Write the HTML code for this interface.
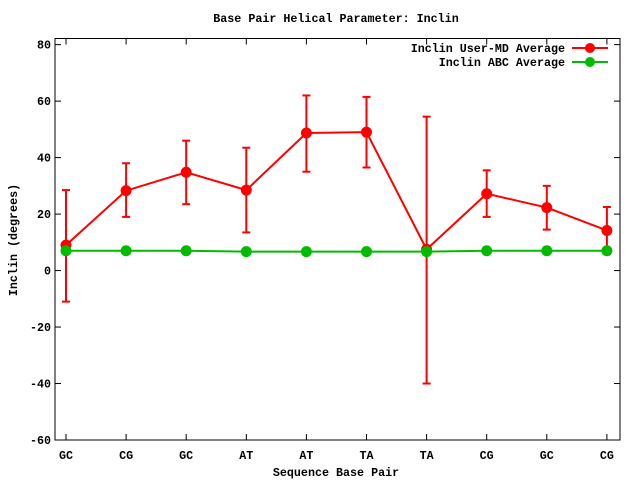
<!DOCTYPE html>
<html><head><meta charset="utf-8"><style>
body{margin:0;background:#fff}
svg{display:block}
text{font-family:"Liberation Mono","DejaVu Sans Mono",monospace;font-size:11.7px;font-weight:bold;fill:#000}
</style></head><body>
<svg id="c" width="640" height="480" xmlns="http://www.w3.org/2000/svg">
<text x="336" y="22" text-anchor="middle">Base Pair Helical Parameter: Inclin</text>
<text x="336" y="476" text-anchor="middle">Sequence Base Pair</text>
<text transform="translate(17,240) rotate(-90)" text-anchor="middle">Inclin (degrees)</text>
<rect x="55" y="38.5" width="565" height="401.5" fill="none" stroke="#000" stroke-width="1"/>
<g id="axes"></g>
<g id="series"></g>
<g>
<text x="565" y="52" text-anchor="end">Inclin User-MD Average</text>
<line x1="572" y1="48" x2="608" y2="48" stroke="#f00" stroke-width="2"/>
<circle cx="590" cy="48" r="5" fill="#f00"/>
<text x="565" y="66" text-anchor="end">Inclin ABC Average</text>
<line x1="572" y1="62" x2="608" y2="62" stroke="#0b0" stroke-width="2"/>
<circle cx="590" cy="62" r="5" fill="#0b0"/>
</g>
</svg>
<script>
const categories=["GC","CG","GC","AT","AT","TA","TA","CG","GC","CG"];
const userMean=[9,28.3,34.8,28.5,48.7,49,7.5,27.2,22.3,14.2];
const userHigh=[28.5,38,46,43.5,62,61.5,54.5,35.5,30,22.5];
const userLow=[-11,19,23.5,13.5,35,36.5,-40,19,14.5,6];
const abcMean=[7,7,7,6.7,6.7,6.7,6.7,7,7,7];
const yTicks=[80,60,40,20,0,-20,-40,-60];
const NS="http://www.w3.org/2000/svg";
const x=i=>66+i*60.1;
const y=v=>440-(v+60)*2.824;
function mk(tag,attrs,parent){const e=document.createElementNS(NS,tag);for(const k in attrs)e.setAttribute(k,attrs[k]);parent.appendChild(e);return e;}
const ax=document.getElementById('axes'),se=document.getElementById('series');
yTicks.forEach(v=>{
 const t=mk('line',{x1:55,x2:61,y1:y(v),y2:y(v),stroke:'#000'},ax);
 
 
 const t2=mk('line',{x1:614,x2:620,y1:y(v),y2:y(v),stroke:'#000'},ax);
 
 
 const l=mk('text',{x:51,y:y(v)+4,'text-anchor':'end'},ax);l.textContent=v;
 
 
});
categories.forEach((c,i)=>{
 const t=mk('line',{x1:x(i),x2:x(i),y1:440,y2:434,stroke:'#000'},ax);
 
 
 const t2=mk('line',{x1:x(i),x2:x(i),y1:38.5,y2:44.5,stroke:'#000'},ax);
 
 
 const l=mk('text',{x:x(i),y:459,'text-anchor':'middle'},ax);l.textContent=c;
 
 
});
const gl=mk('polyline',{points:abcMean.map((v,i)=>x(i)+','+y(v)).join(' '),fill:'none',stroke:'#0b0','stroke-width':2},se);


const rl=mk('polyline',{points:userMean.map((v,i)=>x(i)+','+y(v)).join(' '),fill:'none',stroke:'#f00','stroke-width':2},se);


userMean.forEach((v,i)=>{
 const g=mk('g',{stroke:'#f00','stroke-width':2},se);
 
 
 mk('line',{x1:x(i),x2:x(i),y1:y(userHigh[i]),y2:y(userLow[i])},g);
 mk('line',{x1:x(i)-4,x2:x(i)+4,y1:y(userHigh[i]),y2:y(userHigh[i])},g);
 mk('line',{x1:x(i)-4,x2:x(i)+4,y1:y(userLow[i]),y2:y(userLow[i])},g);
 const p=mk('circle',{cx:x(i),cy:y(v),r:5.5,fill:'#f00'},se);
 
 
});
abcMean.forEach((v,i)=>{
 const p=mk('circle',{cx:x(i),cy:y(v),r:5.5,fill:'#0b0'},se);
 
 
});
</script>
</body></html>
